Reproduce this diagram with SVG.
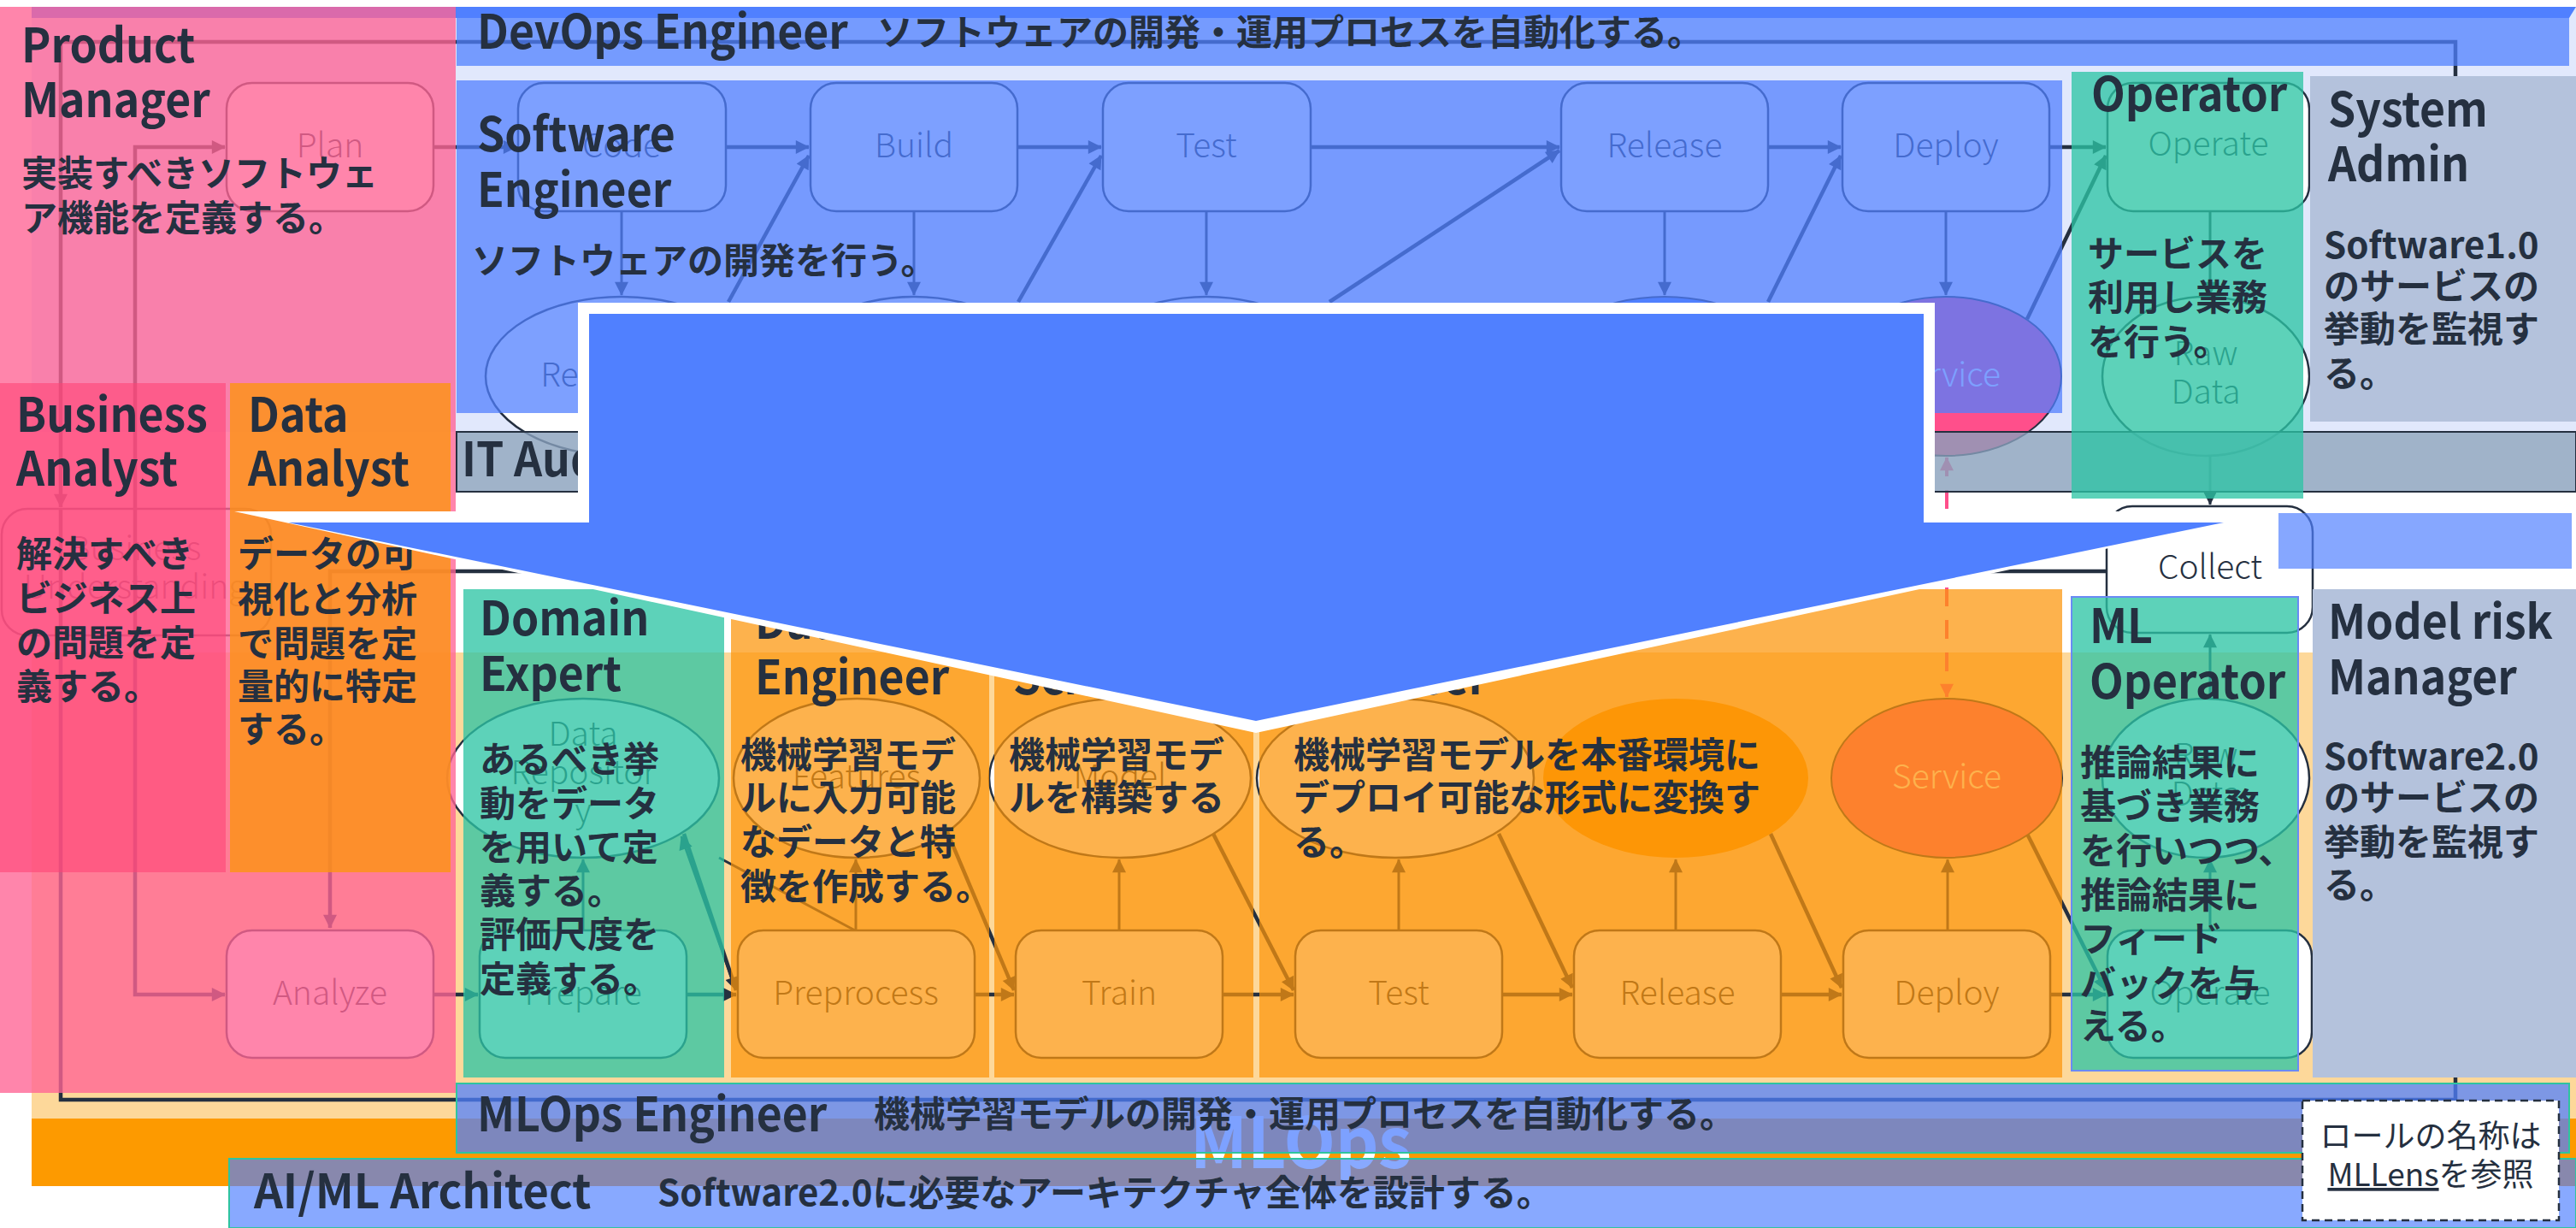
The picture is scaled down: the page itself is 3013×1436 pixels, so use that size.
<svg xmlns="http://www.w3.org/2000/svg" width="3013" height="1436" viewBox="0 0 3013 1436">
<defs>
<style>
.t{font-family:'Noto Sans CJK JP','Noto Sans',sans-serif;font-weight:700;font-size:55px;fill:#253040}
.d{font-family:'Noto Sans CJK JP','Noto Sans',sans-serif;font-weight:700;font-size:42px;fill:#253040}
.n{font-family:'Noto Sans CJK JP','Noto Sans',sans-serif;font-weight:300;font-size:39px;fill:#253040;text-anchor:middle}
.nw{font-family:'Noto Sans CJK JP','Noto Sans',sans-serif;font-weight:300;font-size:39px;fill:#ffffff;text-anchor:middle}
.box{fill:#ffffff;stroke:#253040;stroke-width:2.5}
.thick{fill:none;stroke:#253040;stroke-width:4.5}
.thin{fill:none;stroke:#253040;stroke-width:3}
.blue{fill:#5080ff}
.teal{fill:#2cc5a4;fill-opacity:0.77}
.orng{fill:#fc9409;fill-opacity:0.72}
.gray{fill:#b4c2dc}
</style>
<marker id="ah" viewBox="0 0 10 10" refX="9.5" refY="5" markerWidth="20" markerHeight="16" markerUnits="userSpaceOnUse" orient="auto-start-reverse"><path d="M0,0 L10,5 L0,10 z" fill="#253040"/></marker>
<marker id="ahp" viewBox="0 0 10 10" refX="9.5" refY="5" markerWidth="20" markerHeight="16" markerUnits="userSpaceOnUse" orient="auto-start-reverse"><path d="M0,0 L10,5 L0,10 z" fill="#ff4f8b"/></marker>
</defs>
<rect x="0" y="0" width="3013" height="1436" fill="#ffffff"/>

<g id="containers">
<rect x="37" y="8" width="2976" height="497" fill="#e1e8fc"/>
<polygon points="37,8 3013,8 3005,21 37,21" fill="#5080ff"/>
<rect x="37" y="763" width="2976" height="545" fill="#fdd89a"/>
<rect x="37" y="1308" width="2976" height="79" fill="#fd9a00"/>
<text x="1392" y="1366" font-family="'Noto Sans CJK JP',sans-serif" font-weight="700" font-size="82" fill="#ffffff" textLength="259" lengthAdjust="spacingAndGlyphs">MLOps</text>
</g>

<g id="connectors">
<path class="thick" d="M2701,172 H2872 V49 H71 V593" marker-end="url(#ah)"/>
<path class="thick" d="M2704,1163 H2872 V1286 H71 V595"/>
<path class="thick" d="M158,668 V172 H263" marker-end="url(#ah)"/>
<path class="thick" d="M158,668 V1163 H263" marker-end="url(#ah)"/>
<path class="thick" d="M507,172 H604" marker-end="url(#ah)"/>
<path class="thick" d="M849,172 H946" marker-end="url(#ah)"/>
<path class="thick" d="M1190,172 H1288" marker-end="url(#ah)"/>
<path class="thick" d="M1533,172 H1824" marker-end="url(#ah)"/>
<path class="thick" d="M2068,172 H2153" marker-end="url(#ah)"/>
<path class="thick" d="M2397,172 H2463" marker-end="url(#ah)"/>
<path class="thin" d="M727,247 V345" marker-end="url(#ah)"/>
<path class="thin" d="M1069,247 V345" marker-end="url(#ah)"/>
<path class="thin" d="M1411,247 V345" marker-end="url(#ah)"/>
<path class="thin" d="M1947,247 V345" marker-end="url(#ah)"/>
<path class="thin" d="M2276,247 V345" marker-end="url(#ah)"/>
<path class="thin" d="M2585,247 V345" marker-end="url(#ah)"/>
<path class="thick" d="M852,353 L946,182" marker-end="url(#ah)"/>
<path class="thick" d="M1191,353 L1288,182" marker-end="url(#ah)"/>
<path class="thick" d="M1555,353 L1824,176" marker-end="url(#ah)"/>
<path class="thick" d="M2068,353 L2153,182" marker-end="url(#ah)"/>
<path class="thick" d="M2371,373 L2463,182" marker-end="url(#ah)"/>
<path class="thin" d="M2585,533 V590" marker-end="url(#ah)"/>
<path class="thick" d="M2464,668 H386 V1085" marker-end="url(#ah)"/>
<path class="thin" d="M2585,817 V742" marker-end="url(#ah)"/>
<path d="M2277,535 V815" fill="none" stroke="#ff4f8b" stroke-width="4" stroke-dasharray="22 16" marker-start="url(#ahp)" marker-end="url(#ahp)"/>
<path class="thick" d="M507,1163 H559" marker-end="url(#ah)"/>
<path class="thick" d="M803,1163 H861" marker-end="url(#ah)"/>
<path class="thick" d="M1140,1163 H1186" marker-end="url(#ah)"/>
<path class="thick" d="M1430,1163 H1513" marker-end="url(#ah)"/>
<path class="thick" d="M1757,1163 H1839" marker-end="url(#ah)"/>
<path class="thick" d="M2083,1163 H2154" marker-end="url(#ah)"/>
<path class="thick" d="M2398,1163 H2463" marker-end="url(#ah)"/>
<path class="thin" d="M682,1088 V1005" marker-end="url(#ah)"/>
<path class="thin" d="M1001,1088 V1005" marker-end="url(#ah)"/>
<path class="thin" d="M1309,1088 V1005" marker-end="url(#ah)"/>
<path class="thin" d="M1636,1088 V1005" marker-end="url(#ah)"/>
<path class="thin" d="M1960,1088 V1005" marker-end="url(#ah)"/>
<path class="thin" d="M2278,1088 V1005" marker-end="url(#ah)"/>
<path class="thin" d="M2585,1088 V1005" marker-end="url(#ah)"/>
<path class="thick" d="M800,975 L861,1158" marker-end="url(#ah)"/>
<path class="thin" d="M858,1150 L797,978" marker-end="url(#ah)"/>
<path class="thin" d="M841,1003 L1000,1088"/>
<path class="thick" d="M1108,973 L1186,1158" marker-end="url(#ah)"/>
<path class="thick" d="M1418,973 L1513,1158" marker-end="url(#ah)"/>
<path class="thick" d="M1753,975 L1839,1155" marker-end="url(#ah)"/>
<path class="thick" d="M2071,975 L2154,1155" marker-end="url(#ah)"/>
<path class="thick" d="M2371,975 L2463,1158" marker-end="url(#ah)"/>
</g>

<g id="node-business-understanding"><rect class="box" x="2" y="595" width="315" height="148" rx="30" fill-opacity="0"/><text class="n" x="158" y="655">Business</text><text class="n" x="158" y="700">Understanding</text></g>
<g id="node-plan"><rect class="box" x="265" y="97" width="242" height="150" rx="30"/><text class="n" x="386" y="184">Plan</text></g>
<g id="node-code"><rect class="box" x="606" y="97" width="243" height="150" rx="30"/><text class="n" x="727" y="184">Code</text></g>
<g id="node-build"><rect class="box" x="948" y="97" width="242" height="150" rx="30"/><text class="n" x="1069" y="184">Build</text></g>
<g id="node-test1"><rect class="box" x="1290" y="97" width="243" height="150" rx="30"/><text class="n" x="1411" y="184">Test</text></g>
<g id="node-release1"><rect class="box" x="1826" y="97" width="242" height="150" rx="30"/><text class="n" x="1947" y="184">Release</text></g>
<g id="node-deploy1"><rect class="box" x="2155" y="97" width="242" height="150" rx="30"/><text class="n" x="2276" y="184">Deploy</text></g>
<g id="node-operate1"><rect class="box" x="2465" y="97" width="236" height="150" rx="30"/><text class="n" x="2583" y="182">Operate</text></g>
<g id="node-repository"><ellipse class="box" cx="727" cy="440" rx="159" ry="93"/><text class="n" x="727" y="452">Repository</text></g>
<g id="node-build-ellipse"><ellipse class="box" cx="1069" cy="440" rx="150" ry="93"/></g>
<g id="node-test-ellipse"><ellipse class="box" cx="1411" cy="440" rx="150" ry="93"/></g>
<g id="node-release-ellipse"><ellipse cx="1947" cy="440" rx="150" ry="93" fill="#5080ff" stroke="#253040" stroke-width="2"/></g>
<g id="node-service1"><ellipse cx="2276" cy="440" rx="135" ry="93" fill="#ff4f8b" stroke="#253040" stroke-width="2"/><text class="nw" x="2276" y="452">Service</text></g>
<g id="node-rawdata1"><ellipse class="box" cx="2580" cy="440" rx="121" ry="93"/><text class="n" x="2580" y="427">Raw</text><text class="n" x="2580" y="472">Data</text></g>
<g id="node-collect"><rect class="box" x="2464" y="592" width="241" height="148" rx="30"/><text class="n" x="2585" y="677">Collect</text></g>
<g id="node-data-repository"><ellipse class="box" cx="682" cy="910" rx="159" ry="93"/><text class="n" x="682" y="872">Data</text><text class="n" x="682" y="917">Repositor</text><text class="n" x="682" y="962">y</text></g>
<g id="node-features"><ellipse class="box" cx="1002" cy="910" rx="144" ry="93"/><text class="n" x="1002" y="922">Features</text></g>
<g id="node-model"><ellipse class="box" cx="1310" cy="910" rx="153" ry="93"/><text class="n" x="1310" y="922">Model</text></g>
<g id="node-ellipse4"><ellipse class="box" cx="1632" cy="910" rx="162" ry="93"/></g>
<g id="node-ellipse5"><ellipse cx="1960" cy="910" rx="155" ry="93" fill="#ff9900" stroke="none"/></g>
<g id="node-service2"><ellipse cx="2277" cy="910" rx="135" ry="93" fill="#ff4f8b" stroke="#253040" stroke-width="2"/><text class="nw" x="2277" y="922">Service</text></g>
<g id="node-rawdata2"><ellipse class="box" cx="2580" cy="910" rx="121" ry="93"/><text class="n" x="2580" y="897">Raw</text><text class="n" x="2580" y="942">Data</text></g>
<g id="node-analyze"><rect class="box" x="265" y="1088" width="242" height="149" rx="30"/><text class="n" x="386" y="1175">Analyze</text></g>
<g id="node-prepare"><rect class="box" x="561" y="1088" width="242" height="149" rx="30"/><text class="n" x="682" y="1175">Prepare</text></g>
<g id="node-preprocess"><rect class="box" x="863" y="1088" width="277" height="149" rx="30"/><text class="n" x="1001" y="1175">Preprocess</text></g>
<g id="node-train"><rect class="box" x="1188" y="1088" width="242" height="149" rx="30"/><text class="n" x="1309" y="1175">Train</text></g>
<g id="node-test2"><rect class="box" x="1515" y="1088" width="242" height="149" rx="30"/><text class="n" x="1636" y="1175">Test</text></g>
<g id="node-release2"><rect class="box" x="1841" y="1088" width="242" height="149" rx="30"/><text class="n" x="1962" y="1175">Release</text></g>
<g id="node-deploy2"><rect class="box" x="2156" y="1088" width="242" height="149" rx="30"/><text class="n" x="2277" y="1175">Deploy</text></g>
<g id="node-operate2"><rect class="box" x="2465" y="1088" width="239" height="149" rx="30"/><text class="n" x="2585" y="1175">Operate</text></g>

<g id="role-it-auditor"><rect x="534" y="505" width="2479" height="70" fill="#88a0bb" fill-opacity="0.8" stroke="#253040" stroke-width="2"/><text class="t" x="540" y="557" transform="matrix(0.94 0 0 1 32.4 0)">IT Auditor</text></g>
<g id="role-product-manager"><rect x="0" y="8" width="533" height="1270" fill="#ff6495" fill-opacity="0.79"/><text class="t" x="25" y="73" transform="matrix(0.94 0 0 1 1.5 0)">Product</text><text class="t" x="25" y="137" transform="matrix(0.94 0 0 1 1.5 0)">Manager</text><text class="d" x="25" y="218">実装すべきソフトウェ</text><text class="d" x="25" y="270">ア機能を定義する。</text></g>
<g id="role-business-analyst"><rect x="0" y="448" width="264" height="572" fill="#ff4577" fill-opacity="0.6"/><text class="t" x="19" y="505" transform="matrix(0.94 0 0 1 1.14 0)">Business</text><text class="t" x="19" y="568" transform="matrix(0.94 0 0 1 1.14 0)">Analyst</text><text class="d" x="19" y="663">解決すべき</text><text class="d" x="19" y="715">ビジネス上</text><text class="d" x="19" y="767">の問題を定</text><text class="d" x="19" y="818">義する。</text></g>
<g id="role-data-analyst"><rect x="269" y="448" width="258" height="572" fill="#fc9411" fill-opacity="0.8"/><text class="t" x="290" y="505" transform="matrix(0.94 0 0 1 17.4 0)">Data</text><text class="t" x="290" y="568" transform="matrix(0.94 0 0 1 17.4 0)">Analyst</text><text class="d" x="278" y="663">データの可</text><text class="d" x="278" y="716">視化と分析</text><text class="d" x="278" y="768">で問題を定</text><text class="d" x="278" y="818">量的に特定</text><text class="d" x="278" y="868">する。</text></g>
<g id="role-devops-engineer"><rect x="534" y="21" width="2471" height="56" fill="#5080ff" fill-opacity="0.74"/><text class="t" x="558" y="57" transform="matrix(0.94 0 0 1 33.48 0)">DevOps Engineer</text><text class="d" x="1026" y="53">ソフトウェアの開発・運用プロセスを自動化する。</text></g>
<g id="role-software-engineer"><rect x="534" y="94" width="1878" height="389" fill="#5080ff" fill-opacity="0.745"/><text class="t" x="558" y="177" transform="matrix(0.94 0 0 1 33.48 0)">Software</text><text class="t" x="558" y="242" transform="matrix(0.94 0 0 1 33.48 0)">Engineer</text><text class="d" x="552" y="320">ソフトウェアの開発を行う。</text></g>
<g id="role-operator"><rect class="teal" x="2423" y="84" width="271" height="499"/><text class="t" x="2446" y="130" transform="matrix(0.94 0 0 1 146.76 0)">Operator</text><text class="d" x="2442" y="312">サービスを</text><text class="d" x="2442" y="363">利用し業務</text><text class="d" x="2442" y="415">を行う。</text></g>
<g id="role-system-admin"><rect class="gray" x="2702" y="89" width="311" height="404"/><text class="t" x="2723" y="148" transform="matrix(0.94 0 0 1 163.38 0)">System</text><text class="t" x="2723" y="212" transform="matrix(0.94 0 0 1 163.38 0)">Admin</text><text class="d" x="2718" y="302">Software1.0</text><text class="d" x="2718" y="350">のサービスの</text><text class="d" x="2718" y="400">挙動を監視す</text><text class="d" x="2718" y="452">る。</text></g>
<g id="role-domain-expert"><rect class="teal" x="542" y="689" width="305" height="571"/><text class="t" x="561" y="743" transform="matrix(0.94 0 0 1 33.66 0)">Domain</text><text class="t" x="561" y="808" transform="matrix(0.94 0 0 1 33.66 0)">Expert</text><text class="d" x="561" y="903">あるべき挙</text><text class="d" x="561" y="955">動をデータ</text><text class="d" x="561" y="1006">を用いて定</text><text class="d" x="561" y="1057">義する。</text><text class="d" x="561" y="1108">評価尺度を</text><text class="d" x="561" y="1160">定義する。</text></g>
<g id="role-data-engineer"><rect class="orng" x="855" y="689" width="302" height="571"/><text class="t" x="883" y="747" transform="matrix(0.94 0 0 1 52.98 0)">Data</text><text class="t" x="883" y="812" transform="matrix(0.94 0 0 1 52.98 0)">Engineer</text><text class="d" x="866" y="898">機械学習モデ</text><text class="d" x="866" y="948">ルに入力可能</text><text class="d" x="866" y="1000">なデータと特</text><text class="d" x="866" y="1052">徴を作成する。</text></g>
<g id="role-data-scientist"><rect class="orng" x="1163" y="689" width="303" height="571"/><text class="t" x="1185" y="747" transform="matrix(0.94 0 0 1 71.1 0)">Data</text><text class="t" x="1185" y="812" transform="matrix(0.94 0 0 1 71.1 0)">Scientist</text><text class="d" x="1180" y="898">機械学習モデ</text><text class="d" x="1180" y="948">ルを構築する</text></g>
<g id="role-ml-engineer"><rect class="orng" x="1473" y="689" width="939" height="571"/><text class="t" x="1513" y="747" transform="matrix(0.94 0 0 1 90.78 0)">ML</text><text class="t" x="1513" y="812" transform="matrix(0.94 0 0 1 90.78 0)">Engineer</text><text class="d" x="1513" y="898">機械学習モデルを本番環境に</text><text class="d" x="1513" y="948">デプロイ可能な形式に変換す</text><text class="d" x="1513" y="1000">る。</text></g>
<g id="role-ml-operator"><rect class="teal" x="2423" y="698" width="265" height="554" stroke="#6a8af5" stroke-width="2"/><text class="t" x="2444" y="752" transform="matrix(0.94 0 0 1 146.64 0)">ML</text><text class="t" x="2444" y="817" transform="matrix(0.94 0 0 1 146.64 0)">Operator</text><text class="d" x="2433" y="907">推論結果に</text><text class="d" x="2433" y="958">基づき業務</text><text class="d" x="2433" y="1010">を行いつつ、</text><text class="d" x="2433" y="1062">推論結果に</text><text class="d" x="2433" y="1113">フィード</text><text class="d" x="2433" y="1165">バックを与</text><text class="d" x="2433" y="1215">える。</text></g>
<g id="role-model-risk-manager"><rect class="gray" x="2705" y="689" width="308" height="571"/><text class="t" x="2723" y="747" transform="matrix(0.94 0 0 1 163.38 0)">Model risk</text><text class="t" x="2723" y="812" transform="matrix(0.94 0 0 1 163.38 0)">Manager</text><text class="d" x="2718" y="900">Software2.0</text><text class="d" x="2718" y="948">のサービスの</text><text class="d" x="2718" y="1000">挙動を監視す</text><text class="d" x="2718" y="1050">る。</text></g>
<g id="band-collect"><rect x="2665" y="600" width="343" height="65" fill="#5080ff" fill-opacity="0.69"/></g>
<g id="role-mlops-engineer"><rect x="534" y="1267" width="2471" height="81" fill="#5080ff" fill-opacity="0.74" stroke="#2ec4a0" stroke-width="2"/><text class="t" x="558" y="1323" transform="matrix(0.94 0 0 1 33.48 0)">MLOps Engineer</text><text class="d" x="1022" y="1318">機械学習モデルの開発・運用プロセスを自動化する。</text></g>
<g id="role-aiml-architect"><rect x="268" y="1355" width="2745" height="81" fill="#5080ff" fill-opacity="0.68" stroke="#2ec4a0" stroke-width="2"/><text class="t" x="297" y="1413" transform="matrix(0.96 0 0 1 11.88 0)">AI/ML Architect</text><text class="d" x="769" y="1410">Software2.0に必要なアーキテクチャ全体を設計する。</text></g>

<g id="big-arrow">
<polygon points="676,354 2263,354 2263,598 2665,598 1469,857 274,598 676,598" fill="#ffffff"/>
<polygon points="689,367 2250,367 2250,611 2601,611 1469,843 337,611 689,611" class="blue"/>
</g>

<g id="legend">
<rect x="2693" y="1287" width="300" height="140" fill="#ffffff" stroke="#253040" stroke-width="2.5" stroke-dasharray="9 6"/>
<text x="2843" y="1342" text-anchor="middle" font-family="'Noto Sans CJK JP',sans-serif" font-size="37" fill="#253040">ロールの名称は</text>
<text x="2843" y="1387" text-anchor="middle" font-family="'Noto Sans CJK JP',sans-serif" font-size="37" fill="#253040"><tspan text-decoration="underline">MLLens</tspan>を参照</text>
</g>
</svg>
